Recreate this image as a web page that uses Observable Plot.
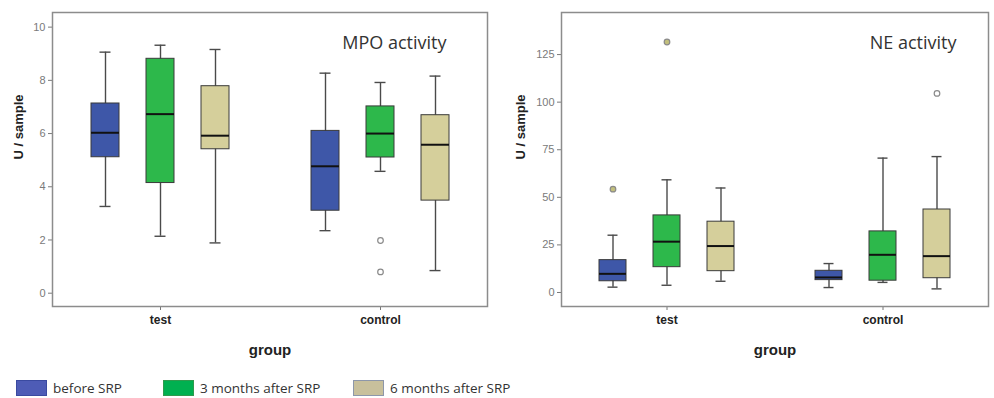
<!DOCTYPE html>
<html>
<head>
<meta charset="utf-8">
<script src="https://cdn.jsdelivr.net/npm/d3@7"></script>
<script src="https://cdn.jsdelivr.net/npm/@observablehq/plot@0.6"></script>
<style>
  html, body { margin: 0; padding: 0; background: #fff; }
  #wrap { position: relative; width: 994px; height: 398px; overflow: hidden; }
  #charts { position: absolute; left: 0; top: 0; display: flex; }
  #legend { position: absolute; left: 0; top: 379px; width: 994px; height: 19px; }
  .item { position: absolute; top: 0; display: flex; align-items: center; font-family: "Open Sans", sans-serif; font-size: 13.5px; color: #333; }
  .sw { width: 31px; height: 16px; margin-right: 6px; box-sizing: border-box; border: 1px solid; }
</style>
</head>
<body>
<div id="wrap">
  <div id="charts"></div>
  <div id="legend"></div>
</div>
<script>
// ---- data ----
const groups = ["test", "control"];
const series = ["before SRP", "3 months after SRP", "6 months after SRP"];
const boxColors = ["#3e57a8", "#2db84b", "#d5cf9b"];
const legendColors = ["#4e5cb6", "#00b050", "#c8c09c"];
const legendBorders = ["#3a4aa0", "#2f9a4d", "#8d97aa"];

// order: test/before, test/3m, test/6m, control/before, control/3m, control/6m
const mpoLow    = [3.26, 2.14, 1.89, 2.35, 4.58, 0.85];
const mpoQ1     = [5.11, 4.14, 5.41, 3.10, 5.10, 3.48];
const mpoMedian = [6.03, 6.73, 5.92, 4.77, 6.00, 5.58];
const mpoQ3     = [7.13, 8.81, 7.78, 6.10, 7.02, 6.69];
const mpoHigh   = [9.06, 9.32, 9.16, 8.27, 7.92, 8.16];
// outliers: [group, series index, value, filled]
const mpoOutliers = [["control", 1, 1.98, false], ["control", 1, 0.80, false]];
const mpoTicks = [0, 2, 4, 6, 8, 10];

const neLow    = [2.8, 3.8, 5.9, 2.6, 5.3, 1.9];
const neQ1     = [5.9, 13.3, 11.2, 6.5, 6.2, 7.5];
const neMedian = [9.8, 26.7, 24.4, 7.9, 19.8, 19.1];
const neQ3     = [17.0, 40.5, 37.2, 11.4, 32.1, 43.6];
const neHigh   = [30.1, 59.2, 54.9, 15.2, 70.6, 71.4];
const neOutliers = [["test", 0, 54.3, true], ["test", 1, 131.6, true], ["control", 2, 104.6, false]];
const neTicks = [0, 25, 50, 75, 100, 125];

// ---- build ----
const key = (g, s) => `${g}|${s}`;
const slotDomain = [];
groups.forEach((g, gi) => {
  if (gi > 0) slotDomain.push(" ");
  series.forEach(s => slotDomain.push(key(g, s)));
});

function rows(low, q1, med, q3, high) {
  const out = [];
  groups.forEach((g, gi) => series.forEach((s, si) => {
    const i = gi * series.length + si;
    out.push({group: g, series: s, slot: key(g, s), low: low[i], q1: q1[i], median: med[i], q3: q3[i], high: high[i]});
  }));
  return out;
}

function makeChart({data, outliers, ticks, yDomain, title, titleDx, marginLeft, marginRight, labelDx}) {
  const out = outliers.map(([g, si, v, filled]) => ({slot: key(g, series[si]), value: v, filled}));
  return Plot.plot({
    width: 497,
    height: 370,
    marginTop: 12,
    marginBottom: 64,
    marginLeft,
    marginRight,
    style: {fontFamily: "'Liberation Sans', Arial, sans-serif", background: "white", overflow: "visible"},
    x: {type: "band", domain: slotDomain, paddingInner: 0.5, paddingOuter: 0.64, align: 0.5},
    y: {domain: yDomain},
    color: {domain: series, range: boxColors},
    marks: [
      Plot.axisY({ticks, tickSize: 4, tickPadding: 3, color: "#7a7a7a", fontSize: 11, label: null}),
      Plot.axisX({ticks: groups.map(g => key(g, series[1])), tickFormat: d => d.split("|")[0], tickSize: 4, tickPadding: 5,
                  fontSize: 12, fontWeight: "bold", color: "#222", stroke: "#777", label: null}),
      Plot.ruleX(data, {x: "slot", y1: "low", y2: "high", stroke: "#4a4a4a", strokeWidth: 1.4}),
      Plot.tickY(data, {x: "slot", y: "low", stroke: "#4a4a4a", strokeWidth: 1.4, insetLeft: 8.5, insetRight: 8.5}),
      Plot.tickY(data, {x: "slot", y: "high", stroke: "#4a4a4a", strokeWidth: 1.4, insetLeft: 8.5, insetRight: 8.5}),
      Plot.barY(data, {x: "slot", y1: "q1", y2: "q3", fill: "series", stroke: "#3a3a3a", strokeWidth: 1}),
      Plot.tickY(data, {x: "slot", y: "median", stroke: "#111", strokeWidth: 2}),
      Plot.dot(out, {x: "slot", y: "value", r: 2.8, stroke: "#8a8a8a", strokeWidth: 1.2, fill: d => d.filled ? "#c2bf7c" : "white"}),
      Plot.frame({stroke: "#8c8c8c", strokeWidth: 1.5}),
      Plot.text([title], {frameAnchor: "top-right", dx: titleDx, dy: 31, lineAnchor: "middle", textAnchor: "end",
                          fontFamily: "'Open Sans', sans-serif", fontSize: 18, fill: "#333"}),
      Plot.text(["U / sample"], {frameAnchor: "left", dx: labelDx, rotate: -90, lineAnchor: "middle", fontSize: 13, fontWeight: "bold", fill: "#222"}),
      Plot.text(["group"], {frameAnchor: "bottom", dy: 44, lineAnchor: "middle", fontSize: 15, fontWeight: "bold", fill: "#222"})
    ]
  });
}

const charts = document.getElementById("charts");
charts.append(makeChart({
  data: rows(mpoLow, mpoQ1, mpoMedian, mpoQ3, mpoHigh), outliers: mpoOutliers, ticks: mpoTicks,
  yDomain: [-0.5, 10.55], title: "MPO activity", titleDx: -41, marginLeft: 52, marginRight: 10, labelDx: -34
}));
charts.append(makeChart({
  data: rows(neLow, neQ1, neMedian, neQ3, neHigh), outliers: neOutliers, ticks: neTicks,
  yDomain: [-7.36, 147.1], title: "NE activity", titleDx: -32, marginLeft: 64, marginRight: 6, labelDx: -41
}));

// legend
const legendLefts = [16, 163, 353];
const legend = document.getElementById("legend");
series.forEach((s, i) => {
  const item = document.createElement("div");
  item.className = "item";
  item.style.left = legendLefts[i] + "px";
  const sw = document.createElement("div");
  sw.className = "sw";
  sw.style.background = legendColors[i];
  sw.style.borderColor = legendBorders[i];
  const t = document.createElement("span");
  t.textContent = s;
  item.append(sw, t);
  legend.append(item);
});
</script>
</body>
</html>
